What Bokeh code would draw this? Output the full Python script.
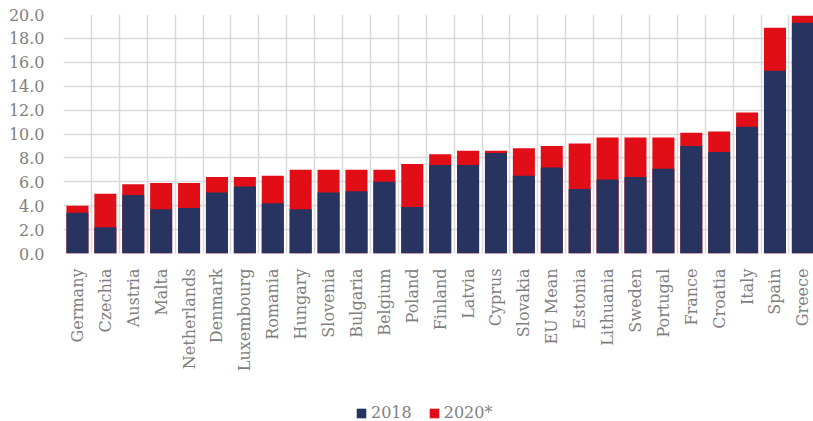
from bokeh.plotting import figure
from bokeh.layouts import column
from bokeh.models import (Range1d, FixedTicker, NumeralTickFormatter, Legend, LegendItem,
                          ColumnDataSource)
from bokeh.embed import file_html
from bokeh.resources import INLINE
import math

countries = ["Germany", "Czechia", "Austria", "Malta", "Netherlands", "Denmark", "Luxembourg",
             "Romania", "Hungary", "Slovenia", "Bulgaria", "Belgium", "Poland", "Finland",
             "Latvia", "Cyprus", "Slovakia", "EU Mean", "Estonia", "Lithuania", "Sweden",
             "Portugal", "France", "Croatia", "Italy", "Spain", "Greece"]
v2018 = [3.4, 2.2, 4.9, 3.7, 3.8, 5.1, 5.6, 4.2, 3.7, 5.1, 5.2, 6.0, 3.9, 7.4,
         7.4, 8.4, 6.5, 7.2, 5.4, 6.2, 6.4, 7.1, 9.0, 8.5, 10.6, 15.3, 19.3]
v2020 = [4.0, 5.0, 5.8, 5.9, 5.9, 6.4, 6.4, 6.5, 7.0, 7.0, 7.0, 7.0, 7.5, 8.3,
         8.6, 8.6, 8.8, 9.0, 9.2, 9.7, 9.7, 9.7, 10.1, 10.2, 11.8, 18.9, 19.9]
series_names = ["2018", "2020*"]
y_ticks = [0, 2, 4, 6, 8, 10, 12, 14, 16, 18, 20]

NAVY = "#26345f"
RED = "#e20e17"
GRID = "#d9d9d9"
TXT = "#7f7f7f"
FONT = "DejaVu Serif"

xs = [i + 0.5 for i in range(len(countries))]
src = ColumnDataSource(dict(x=xs, a=v2018, b=v2020, name=countries))

p = figure(output_backend="svg", toolbar_location=None,
           frame_width=750, frame_height=239,
           x_range=Range1d(0, 26.88), y_range=Range1d(0, 20),
           min_border_left=63, min_border_right=0, min_border_top=14, min_border_bottom=0)
p.outline_line_color = None
p.background_fill_color = "white"
p.border_fill_color = "white"

r2020 = p.vbar(x="x", top="b", width=0.79, source=src, fill_color=RED, line_color=None)
r2018 = p.vbar(x="x", top="a", width=0.79, source=src, fill_color=NAVY, line_color=None)

# axes
p.xaxis.ticker = FixedTicker(ticks=xs)
p.xaxis.major_label_overrides = {x: n for x, n in zip(xs, countries)}
p.xaxis.major_label_orientation = math.pi / 2
p.yaxis.ticker = FixedTicker(ticks=y_ticks)
p.yaxis.formatter = NumeralTickFormatter(format="0.0")
for ax in (p.xaxis[0], p.yaxis[0]):
    ax.axis_line_color = None
    ax.major_tick_line_color = None
    ax.minor_tick_line_color = None
    ax.major_tick_out = 0
    ax.major_tick_in = 0
    ax.major_label_text_font = FONT
    ax.major_label_text_font_size = "16px"
    ax.major_label_text_color = TXT
p.xaxis.major_label_standoff = 15
p.yaxis.major_label_standoff = 19

# grids
p.xgrid.ticker = FixedTicker(ticks=list(range(len(countries) + 1)))
p.xgrid.grid_line_color = GRID
p.xgrid.grid_line_width = 1.5
p.ygrid.ticker = FixedTicker(ticks=y_ticks)
p.ygrid.grid_line_color = GRID
p.ygrid.grid_line_width = 1.5

# separate strip holding the legend, under the chart; its ranges look away from
# the data so that only the legend is visible
p2 = figure(output_backend="svg", toolbar_location=None, width=813, height=48,
            x_range=Range1d(100, 101), y_range=Range1d(100, 101),
            min_border_left=0, min_border_right=0, min_border_top=0, min_border_bottom=0)
p2.axis.visible = False
p2.grid.visible = False
p2.outline_line_color = None
l2018 = p2.vbar(x="x", top="a", width=0.79, source=src, fill_color=NAVY, line_color=None)
l2020 = p2.vbar(x="x", top="b", width=0.79, source=src, fill_color=RED, line_color=None)

legend = Legend(items=[LegendItem(label=series_names[0], renderers=[l2018]),
                       LegendItem(label=series_names[1], renderers=[l2020])],
                orientation="horizontal", location=(292, 0),
                padding=0, margin=0, spacing=16, label_standoff=4,
                glyph_width=12, glyph_height=12, label_height=12,
                label_text_font=FONT, label_text_font_size="16px", label_text_color=TXT,
                border_line_color=None, background_fill_alpha=0)
p2.add_layout(legend, "center")

layout = column(p, p2, spacing=0)
open("out.html", "w").write(file_html(layout, INLINE))
